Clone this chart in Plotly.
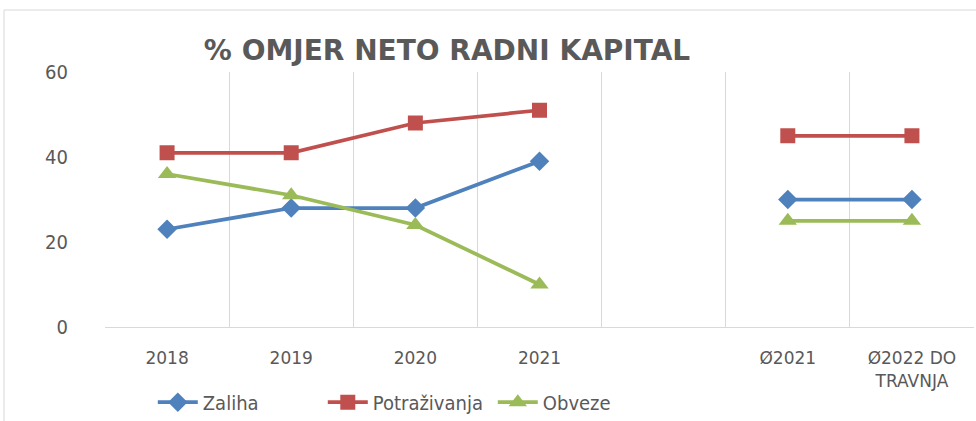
import plotly.graph_objects as go

categories = ["2018", "2019", "2020", "2021", "", "Ø2021", "Ø2022 DO<br>TRAVNJA"]
zaliha = [23, 28, 28, 39, None, 30, 30]
potrazivanja = [41, 41, 48, 51, None, 45, 45]
obveze = [36, 31, 24, 10, None, 25, 25]
y_ticks = [0, 20, 40, 60]

xs = list(range(len(categories)))
grey = "#595959"

fig = go.Figure()
fig.add_trace(go.Scatter(x=xs, y=zaliha, name="Zaliha", mode="lines+markers",
                         line=dict(color="#4f81bd", width=3.75),
                         marker=dict(symbol="diamond", size=15, color="#4f81bd")))
fig.add_trace(go.Scatter(x=xs, y=potrazivanja, name="Potraživanja", mode="lines+markers",
                         line=dict(color="#c0504d", width=3.75),
                         marker=dict(symbol="square", size=15, color="#c0504d")))
fig.add_trace(go.Scatter(x=xs, y=obveze, name="Obveze", mode="lines+markers",
                         line=dict(color="#9bbb59", width=3.75),
                         marker=dict(symbol="triangle-up", size=16, color="#9bbb59")))

fig.update_layout(
    width=976, height=421,
    margin=dict(l=105, r=2, t=72, b=94, autoexpand=False),
    paper_bgcolor="white", plot_bgcolor="white",
    font=dict(family="DejaVu Sans", color=grey),
    title=dict(text="<b>% OMJER NETO RADNI KAPITAL</b>", x=0.458, xanchor="center",
               y=0.881, yanchor="middle",
               font=dict(family="DejaVu Sans", size=28, color=grey)),
    showlegend=True,
    legend=dict(orientation="h", x=0.055, xanchor="left", y=-0.295, yanchor="middle",
                font=dict(size=20, color=grey, family="DejaVu Sans Condensed, sans-serif"),
                itemwidth=40, tracegroupgap=0, entrywidth=115, entrywidthmode="pixels"),
    xaxis=dict(range=[-0.5, len(categories) - 0.5], tickmode="array", tickvals=xs,
               ticktext=categories, showgrid=False, zeroline=False,
               showline=True, linecolor="#d9d9d9", linewidth=1,
               ticks="", ticklabelstandoff=16,
               tickfont=dict(size=17, color=grey),
               minor=dict(tickmode="array",
                          tickvals=[i - 0.5 for i in range(len(categories) + 1)],
                          showgrid=True, gridcolor="#d9d9d9", gridwidth=1, ticks="")),
    yaxis=dict(range=[0, 60], tickmode="array", tickvals=y_ticks,
               showgrid=False, zeroline=False, showline=False, ticks="",
               ticklabelstandoff=36,
               tickfont=dict(size=20, color=grey,
                             family="DejaVu Sans Condensed, sans-serif")),
    shapes=[dict(type="rect", xref="paper", yref="paper",
                 x0=(4 - 105) / 869, x1=1.05, y0=-0.45, y1=(327 - 10) / 255,
                 line=dict(color="#d9d9d9", width=1), fillcolor="rgba(0,0,0,0)",
                 layer="below")],
)

fig.write_html("out.html")
